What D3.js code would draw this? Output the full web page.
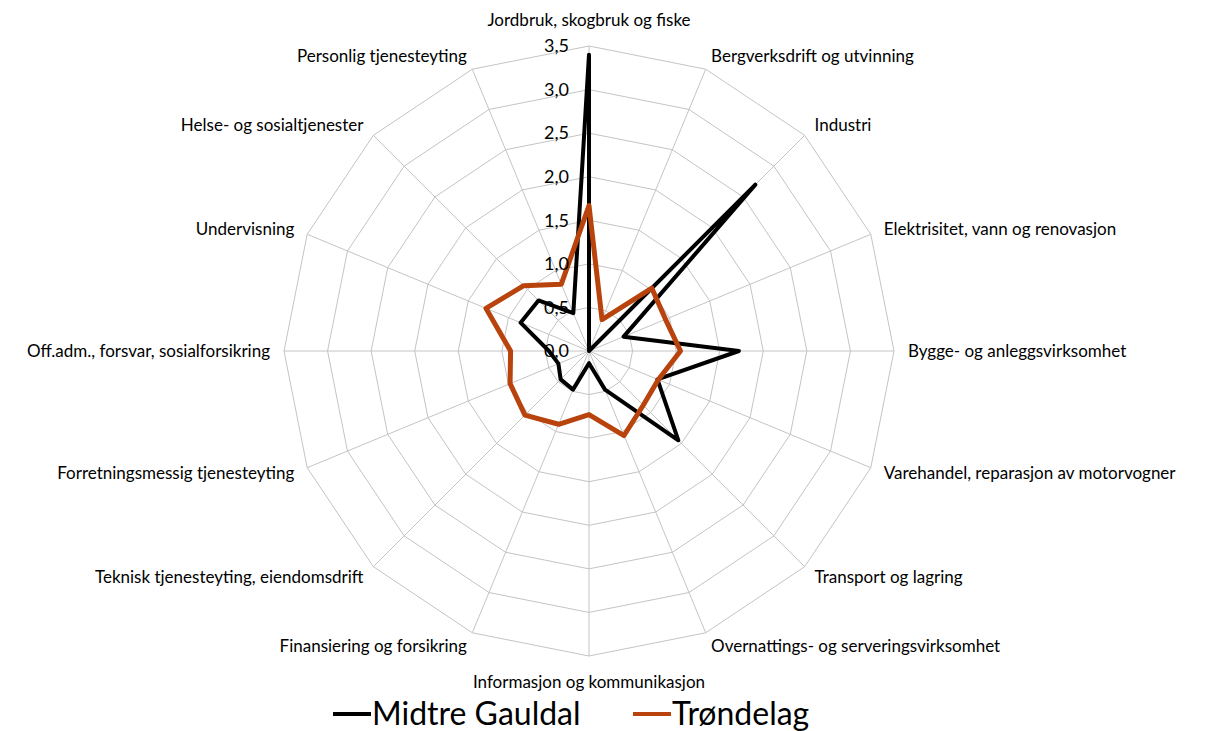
<!DOCTYPE html>
<html>
<head>
<meta charset="utf-8">
<script src="https://cdn.jsdelivr.net/npm/d3@7"></script>
<style>
  body { margin: 0; background: #fff; }
  svg text { font-family: Lato, "Open Sans", sans-serif; fill: #000; }
</style>
</head>
<body>
<svg id="chart" width="1207" height="731"></svg>
<script>
// data
const categories = [
  "Jordbruk, skogbruk og fiske",
  "Bergverksdrift og utvinning",
  "Industri",
  "Elektrisitet, vann og renovasjon",
  "Bygge- og anleggsvirksomhet",
  "Varehandel, reparasjon av motorvogner",
  "Transport og lagring",
  "Overnattings- og serveringsvirksomhet",
  "Informasjon og kommunikasjon",
  "Finansiering og forsikring",
  "Teknisk tjenesteyting, eiendomsdrift",
  "Forretningsmessig tjenesteyting",
  "Off.adm., forsvar, sosialforsikring",
  "Undervisning",
  "Helse- og sosialtjenester",
  "Personlig tjenesteyting"
];
const midtreGauldal = [3.4, 0.0, 2.7, 0.43, 1.72, 0.85, 1.45, 0.48, 0.14, 0.48, 0.46, 0.38, 0.46, 0.85, 0.82, 0.47];
const trondelag = [1.67, 0.39, 1.02, 0.95, 1.05, 0.86, 0.88, 1.05, 0.73, 0.91, 1.04, 0.98, 0.90, 1.28, 1.06, 0.83];
const tickValues = [0, 0.5, 1, 1.5, 2, 2.5, 3, 3.5];
const seriesNames = ["Midtre Gauldal", "Trøndelag"];
const seriesColors = ["#000000", "#b8430c"];

const cx = 589, cy = 351, R = 305;
const svg = d3.select("#chart");
const g = svg.append("g").attr("transform", `translate(${cx},${cy})`);

const r = d3.scaleLinear().domain([0, 3.5]).range([0, R]);
const angle = d3.scalePoint().domain(categories).range([0, 2 * Math.PI * 15 / 16]);
const fmt = v => d3.format(".1f")(v).replace(".", ",");

function pt(cat, v) {
  const a = angle(cat);
  return [r(v) * Math.sin(a), -r(v) * Math.cos(a)];
}

// ringer
tickValues.filter(v => v > 0).forEach(v => {
  g.append("path")
    .attr("d", d3.line()(categories.map(c => pt(c, v))) + "Z")
    .attr("fill", "none")
    .attr("stroke", "#c4c4c4")
    .attr("stroke-width", 1);
});

// eiker
g.selectAll(".spoke")
  .data(categories)
  .join("line")
  .attr("x1", 0).attr("y1", 0)
  .attr("x2", d => pt(d, 3.5)[0])
  .attr("y2", d => pt(d, 3.5)[1])
  .attr("stroke", "#c4c4c4")
  .attr("stroke-width", 1);

// serier
const lineGen = d3.line().curve(d3.curveLinearClosed);
[midtreGauldal, trondelag].forEach((vals, i) => {
  g.append("path")
    .attr("d", lineGen(categories.map((c, k) => pt(c, vals[k]))))
    .attr("fill", "none")
    .attr("stroke", seriesColors[i])
    .attr("stroke-width", i === 0 ? 4 : 5)
    .attr("stroke-linejoin", "round");
});

// akseverdier
g.selectAll(".tick")
  .data(tickValues)
  .join("text")
  .attr("x", -20)
  .attr("y", d => -r(d))
  .attr("dy", "0.35em")
  .attr("text-anchor", "end")
  .style("font-size", "18px")
  .text(fmt);

// kategorietiketter
g.selectAll(".cat")
  .data(categories)
  .join("text")
  .each(function (d) {
    const a = angle(d);
    const s = Math.sin(a), c = Math.cos(a);
    const el = d3.select(this);
    let rr = R + 14;
    if (Math.abs(s) < 0.01) { rr = R + 26; }
    el.attr("x", rr * s)
      .attr("y", -rr * c)
      .attr("dy", "0.35em")
      .attr("text-anchor", Math.abs(s) < 0.01 ? "middle" : (s > 0 ? "start" : "end"));
  })
  .style("font-size", "17px")
  .text(d => d);

// legende
const legend = svg.append("g").attr("transform", "translate(333,714)");
const legX = [0, 300];
seriesNames.forEach((name, i) => {
  const lg = legend.append("g").attr("transform", `translate(${legX[i]},0)`);
  lg.append("line")
    .attr("x1", 0).attr("x2", 38)
    .attr("stroke", seriesColors[i])
    .attr("stroke-width", 4);
  lg.append("text")
    .attr("x", 39)
    .attr("dy", "0.34em")
    .style("font-size", "32px")
    .text(name);
});
</script>
</body>
</html>
